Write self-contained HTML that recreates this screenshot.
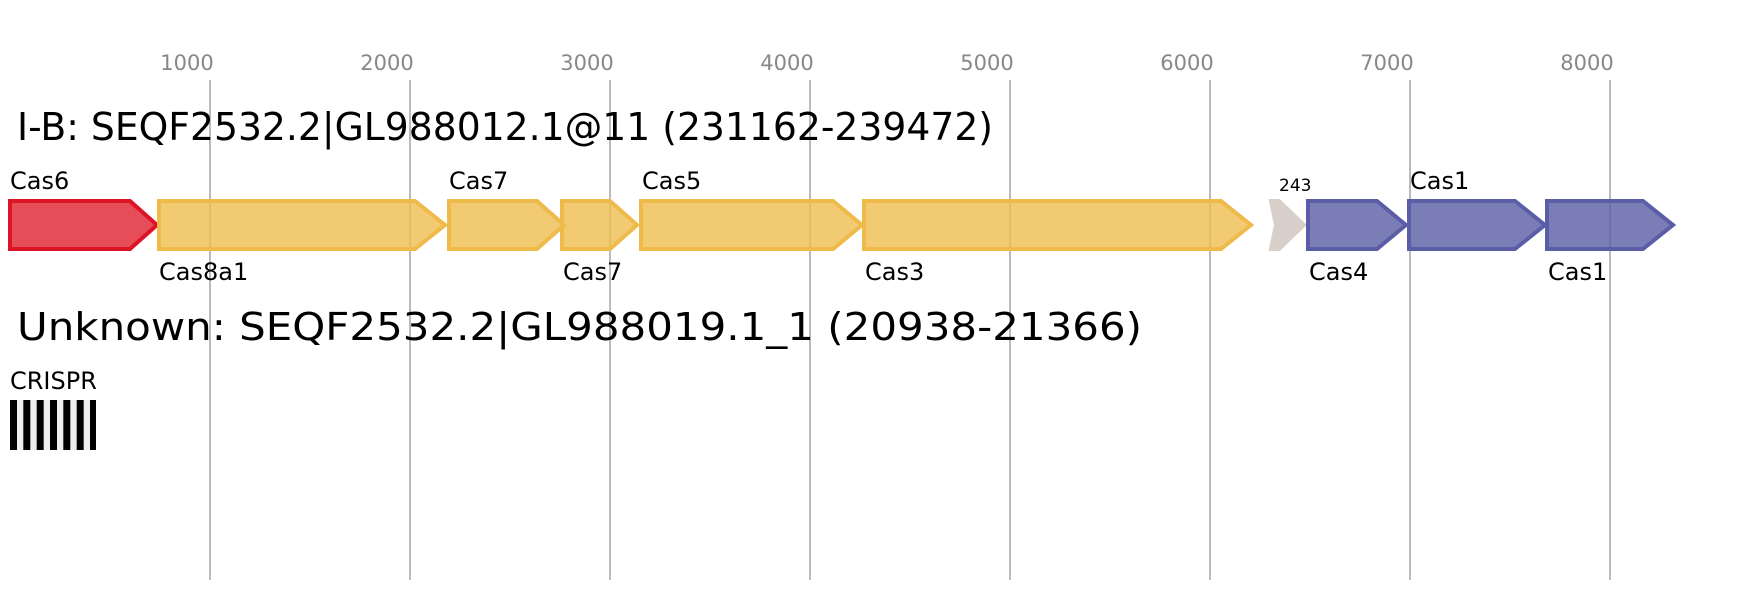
<!DOCTYPE html>
<html><head><meta charset="utf-8"><style>
html,body{margin:0;padding:0;background:#fff;width:1762px;height:600px;overflow:hidden}
svg{display:block;font-family:"DejaVu Sans","Liberation Sans",sans-serif}
</style></head><body>
<svg width="1762" height="600" viewBox="0 0 1762 600">
<g stroke="#bbb" stroke-width="2">
<line x1="210" y1="80" x2="210" y2="580"/><line x1="410" y1="80" x2="410" y2="580"/>
<line x1="610" y1="80" x2="610" y2="580"/><line x1="810" y1="80" x2="810" y2="580"/>
<line x1="1010" y1="80" x2="1010" y2="580"/><line x1="1210" y1="80" x2="1210" y2="580"/>
<line x1="1410" y1="80" x2="1410" y2="580"/><line x1="1610" y1="80" x2="1610" y2="580"/>
</g>
<g fill="#888" font-size="21" text-anchor="middle">
<text x="187" y="70">1000</text><text x="387" y="70">2000</text><text x="587" y="70">3000</text>
<text x="787" y="70">4000</text><text x="987" y="70">5000</text><text x="1187" y="70">6000</text>
<text x="1387" y="70">7000</text><text x="1587" y="70">8000</text>
</g>
<text x="17" y="140" font-size="38" textLength="976" lengthAdjust="spacingAndGlyphs">I-B: SEQF2532.2|GL988012.1@11 (231162-239472)</text>
<g stroke-width="4" fill-opacity="0.8">
<polygon points="10,201 130,201 157,225 130,249 10,249" fill="#e0202f" stroke="#dc1426"/>
<polygon points="159,201 415,201 445,225 415,249 159,249" fill="#eebd4e" stroke="#eebb4a"/>
<polygon points="449,201 537,201 564,225 537,249 449,249" fill="#eebd4e" stroke="#eebb4a"/>
<polygon points="562,201 610,201 637,225 610,249 562,249" fill="#eebd4e" stroke="#eebb4a"/>
<polygon points="641,201 833,201 862,225 833,249 641,249" fill="#eebd4e" stroke="#eebb4a"/>
<polygon points="864,201 1221,201 1251,225 1221,249 864,249" fill="#eebd4e" stroke="#eebb4a"/>
<polygon points="1271,201 1279,201 1304,225 1279,249 1271,249 1276,225" fill="#cfc3bd" stroke="#d9cfc9"/>
<polygon points="1308,201 1377,201 1406,225 1377,249 1308,249" fill="#5a5ca4" stroke="#5b5ea6"/>
<polygon points="1409,201 1515,201 1545,225 1515,249 1409,249" fill="#5a5ca4" stroke="#5b5ea6"/>
<polygon points="1547,201 1643,201 1673,225 1643,249 1547,249" fill="#5a5ca4" stroke="#5b5ea6"/>
</g>
<g font-size="24" fill="#000">
<text x="10" y="189">Cas6</text>
<text x="159" y="280">Cas8a1</text>
<text x="449" y="189">Cas7</text>
<text x="563" y="280">Cas7</text>
<text x="642" y="189">Cas5</text>
<text x="865" y="280">Cas3</text>
<text x="1279" y="191" font-size="17">243</text>
<text x="1309" y="280">Cas4</text>
<text x="1410" y="189">Cas1</text>
<text x="1548" y="280">Cas1</text>
</g>
<text x="17" y="340" font-size="38" textLength="1125" lengthAdjust="spacingAndGlyphs">Unknown: SEQF2532.2|GL988019.1_1 (20938-21366)</text>
<text x="10" y="389" font-size="24">CRISPR</text>
<rect x="10" y="400" width="86" height="50" fill="#eee"/>
<g fill="#000">
<rect x="10" y="400" width="7" height="50"/><rect x="23.3" y="400" width="7" height="50"/>
<rect x="36.7" y="400" width="7" height="50"/><rect x="50" y="400" width="7" height="50"/>
<rect x="63.3" y="400" width="7" height="50"/><rect x="76.7" y="400" width="7" height="50"/>
<rect x="90" y="400" width="6" height="50"/>
</g>
</svg>
</body></html>
